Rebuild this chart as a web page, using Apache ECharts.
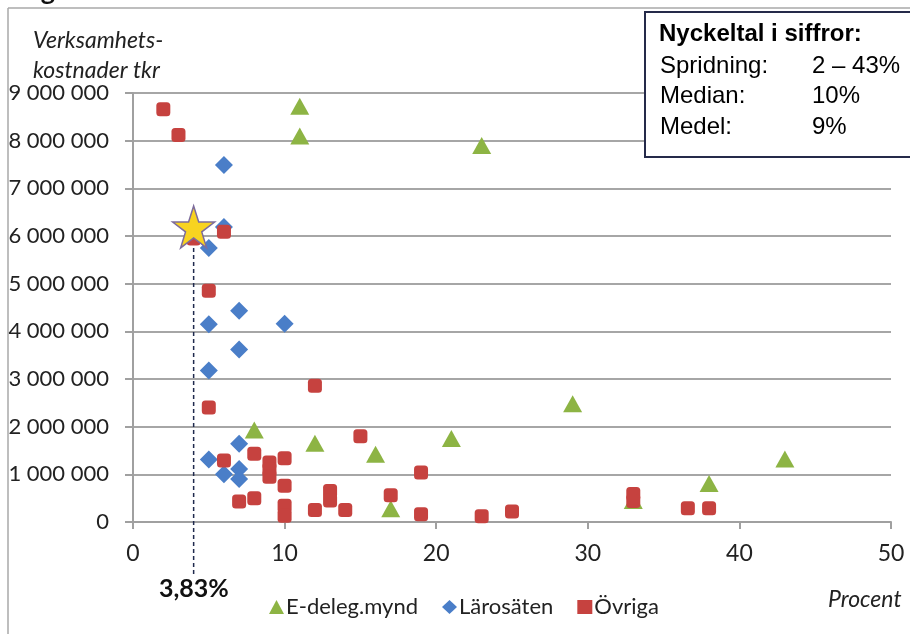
<!DOCTYPE html>
<html>
<head>
<meta charset="utf-8">
<script src="https://cdn.jsdelivr.net/npm/echarts@6/dist/echarts.min.js"></script>
<style>
  html, body { margin: 0; padding: 0; background: #fff; }
  #chart { width: 910px; height: 634px; }
</style>
</head>
<body>
<div id="chart"></div>
<script>
// [procent, kostnad tkr]
const eDeleg = [
  [11, 8720000], [11, 8100000], [23, 7900000], [29, 2480000], [8, 1930000],
  [12, 1650000], [21, 1750000], [16, 1420000], [43, 1320000], [38, 810000],
  [17, 280000], [33, 450000]
];
const larosaten = [
  [6, 7490000], [6, 6190000], [5, 5750000], [7, 4430000], [5, 4150000],
  [10, 4160000], [7, 3620000], [5, 3180000], [7, 1640000], [5, 1310000],
  [6, 1000000], [7, 1110000], [7, 900000]
];
const ovriga = [
  [2, 8660000], [3, 8120000], [6, 6090000], [4, 5950000], [5, 4850000],
  [12, 2860000], [5, 2400000], [15, 1800000], [8, 1430000], [6, 1290000],
  [9, 1250000], [9, 1100000], [9, 950000], [10, 1340000], [10, 760000],
  [10, 340000], [10, 130000], [7, 430000], [8, 500000], [12, 250000],
  [13, 650000], [13, 450000], [14, 250000], [17, 560000], [19, 1040000],
  [19, 160000], [23, 120000], [25, 220000], [33, 590000], [33, 440000],
  [36.6, 290000], [38, 290000]
];
const highlight = [[4, 6190000]];
const highlightLabel = "3,83%";
const seriesNames = ["E-deleg.mynd", "Lärosäten", "Övriga"];
const boxTitle = "Nyckeltal i siffror:";
const boxRows = [["Spridning:", "2 – 43%"], ["Median:", "10%"], ["Medel:", "9%"]];

const FONT = "Lato, 'Liberation Sans', sans-serif";
const BOXFONT = "'Liberation Sans', Arial, sans-serif";
const STAR = "path://M50,0 L61.8,35.1 L98.9,35.1 L68.9,56.8 L80.3,91.9 L50,70.2 L19.7,91.9 L31.1,56.8 L1.1,35.1 L38.2,35.1 Z";

const chart = echarts.init(document.getElementById("chart"));

function fmt(v) {
  return String(v).replace(/\B(?=(\d{3})+(?!\d))/g, " ");
}

let boxTexts = [
  {
    type: "text", left: 659, top: 22, z: 20,
    style: { text: boxTitle, font: "bold 24px " + BOXFONT, fill: "#000" }
  }
];
boxRows.forEach((r, i) => {
  boxTexts.push({
    type: "text", left: 660, top: 54 + i * 30.5, z: 20,
    style: { text: r[0], font: "24px " + BOXFONT, fill: "#000" }
  });
  boxTexts.push({
    type: "text", left: 812, top: 54 + i * 30.5, z: 20,
    style: { text: r[1], font: "24px " + BOXFONT, fill: "#000" }
  });
});

const baseGraphic = [
  // outer frame
  { type: "line", shape: { x1: 8, y1: 8, x2: 8, y2: 634 }, style: { stroke: "#a8a8a8", lineWidth: 1.5 } },
  { type: "line", shape: { x1: 8, y1: 8, x2: 910, y2: 8 }, style: { stroke: "#a8a8a8", lineWidth: 1.5 } },
  // cut-off heading
  {
    type: "text", left: 0, top: -22,
    style: { text: "Diagram 6. IT-kostnader som andel av verksamhetskostnad", font: "bold 27px " + FONT, fill: "#111" }
  },
  {
    type: "text", left: 33, top: 26,
    style: { text: "Verksamhets-\nkostnader tkr", font: "italic 23px " + FONT, fill: "#222", lineHeight: 30 }
  },
  {
    type: "text", left: 828, top: 588,
    style: { text: "Procent", font: "italic 23px " + FONT, fill: "#222" }
  },
  {
    type: "text", left: 159, top: 576,
    style: { text: highlightLabel, font: "bold 25px " + FONT, fill: "#111" }
  },
  {
    type: "rect", z: 10, shape: { x: 645, y: 12, width: 300, height: 145 },
    style: { fill: "#fff", stroke: "#252a4a", lineWidth: 2 }
  }
].concat(boxTexts);

const option = {
  animation: false,
  backgroundColor: "#fff",
  grid: { left: 133, right: 19, top: 93, bottom: 112 },
  xAxis: {
    type: "value",
    min: 0, max: 50, interval: 10,
    axisLine: { show: true, lineStyle: { color: "#a0a0a0", width: 2 } },
    axisTick: { show: true, length: 7, lineStyle: { color: "#a0a0a0", width: 2 } },
    splitLine: { show: false },
    axisLabel: { margin: 20, fontFamily: FONT, fontSize: 23, color: "#222" }
  },
  yAxis: {
    type: "value",
    min: 0, max: 9000000, interval: 1000000,
    axisLine: { show: true, lineStyle: { color: "#a0a0a0", width: 2 } },
    axisTick: { show: true, length: 8, lineStyle: { color: "#a0a0a0", width: 2 } },
    splitLine: { show: true, lineStyle: { color: "#a6a6a6", width: 2 } },
    axisLabel: { margin: 24, fontFamily: FONT, fontSize: 22, color: "#222", formatter: fmt }
  },
  legend: {
    left: 264, top: 591,
    itemWidth: 15, itemHeight: 14, itemGap: 24,
    textStyle: { fontFamily: FONT, fontSize: 22, color: "#222", padding: [0, 0, 0, -3] },
    data: [
      { name: seriesNames[0], icon: "triangle" },
      { name: seriesNames[1], icon: "diamond" },
      { name: seriesNames[2], icon: "rect" }
    ]
  },
  series: [
    {
      name: seriesNames[0], type: "scatter", data: eDeleg,
      symbol: "triangle", symbolSize: [19, 17],
      itemStyle: { color: "#8db444", opacity: 1 }
    },
    {
      name: seriesNames[1], type: "scatter", data: larosaten,
      symbol: "diamond", symbolSize: 18,
      itemStyle: { color: "#4a7ec8", opacity: 1 }
    },
    {
      name: seriesNames[2], type: "scatter", data: ovriga,
      symbol: "roundRect", symbolSize: 14,
      itemStyle: { color: "#c6423f", opacity: 1 }
    },
    {
      name: "star", type: "scatter", data: highlight,
      symbol: STAR, symbolSize: 42, z: 5,
      itemStyle: { color: "#f8d320", borderColor: "#7d6c9c", borderWidth: 1.5, opacity: 1 }
    }
  ],
  graphic: baseGraphic
};

chart.setOption(option);

// dashed guide from the star down below the axis
const p = chart.convertToPixel({ gridIndex: 0 }, highlight[0]);
chart.setOption({
  graphic: baseGraphic.concat([
    {
      type: "line", z: 1,
      shape: { x1: p[0], y1: p[1], x2: p[0], y2: 575 },
      style: { stroke: "#1f2a4d", lineWidth: 1.5, lineDash: [4, 3] }
    }
  ])
});
</script>
</body>
</html>
